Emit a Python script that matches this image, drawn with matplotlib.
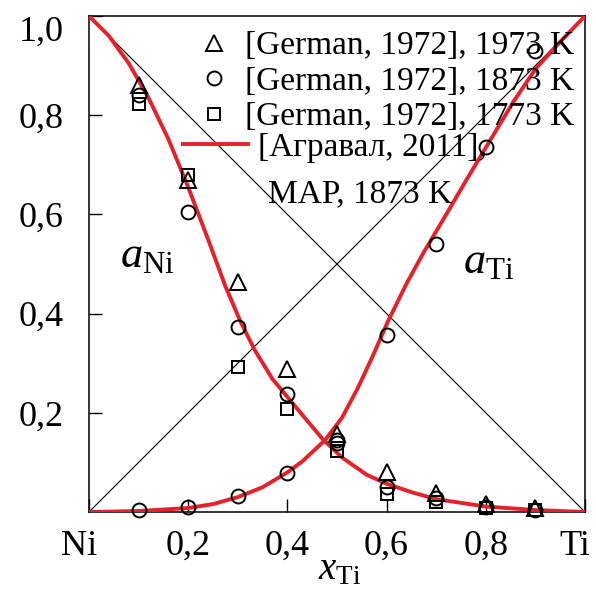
import numpy as np
import matplotlib.pyplot as plt
from matplotlib.lines import Line2D
from matplotlib.transforms import ScaledTranslation

plt.rcParams['font.family'] = ['Liberation Serif', 'DejaVu Serif']
plt.rcParams['mathtext.fontset'] = 'custom'
plt.rcParams['mathtext.rm'] = 'Liberation Serif'
plt.rcParams['mathtext.it'] = 'Liberation Serif:italic'

# --- experimental points [German, 1972] ---
x_exp = [0.1, 0.2, 0.3, 0.4, 0.5, 0.6, 0.7, 0.8, 0.9]
a_ni_1973 = [0.861, 0.669, 0.464, 0.288, 0.157, 0.081, 0.038, 0.016, 0.008]
a_ni_1873 = [0.841, 0.605, 0.373, 0.238, 0.146, 0.051, 0.028, 0.010, 0.005]
a_ni_1773 = [0.823, 0.679, 0.293, 0.207, 0.124, 0.037, 0.021, 0.008, 0.004]
a_ti_1873 = [0.004, 0.010, 0.033, 0.079, 0.140, 0.357, 0.540, 0.736, 0.929]

# --- model curves [Агравал, 2011], MAP, 1873 K ---
x_ni_curve = [0.0, 0.04, 0.08, 0.12, 0.16, 0.2, 0.24, 0.275, 0.305, 0.335, 0.37,
              0.4, 0.435, 0.472, 0.51, 0.56, 0.6, 0.65, 0.7, 0.8, 0.9, 1.0]
a_ni_curve = [1.0, 0.96, 0.905, 0.835, 0.752, 0.655, 0.55, 0.455, 0.385, 0.325, 0.268,
              0.232, 0.19, 0.146, 0.11, 0.075, 0.057, 0.04, 0.026, 0.011, 0.004, 0.0]
x_ti_curve = [0.0, 0.1, 0.2, 0.25, 0.3, 0.35, 0.4, 0.43, 0.476, 0.51, 0.542, 0.571,
              0.603, 0.641, 0.674, 0.722, 0.76, 0.808, 0.855, 0.9, 0.95, 1.0]
a_ti_curve = [0.0, 0.002, 0.008, 0.016, 0.03, 0.05, 0.08, 0.102, 0.145, 0.19, 0.25, 0.312,
              0.385, 0.462, 0.522, 0.603, 0.668, 0.748, 0.826, 0.893, 0.948, 1.0]

xticks = [0, 0.2, 0.4, 0.6, 0.8, 1.0]
xtick_labels = ['Ni', '0,2', '0,4', '0,6', '0,8', 'Ti']
yticks = [0.2, 0.4, 0.6, 0.8, 1.0]
ytick_labels = ['0,2', '0,4', '0,6', '0,8', '1,0']

RED = '#e8202a'

fig = plt.figure(figsize=(5.96, 5.89), dpi=100)
ax = fig.add_axes([0.1493, 0.1307, 0.8322, 0.8421])

# ideal solution diagonals
ax.plot([0, 1], [0, 1], color='black', lw=0.8)
ax.plot([0, 1], [1, 0], color='black', lw=0.8)

ax.plot(x_ni_curve, a_ni_curve, color=RED, lw=2.8, solid_capstyle='round', zorder=3)
ax.plot(x_ti_curve, a_ti_curve, color=RED, lw=2.8, solid_capstyle='round', zorder=3)

mk = dict(ls='none', mfc='none', mec='black', mew=1.4, zorder=4, clip_on=False)
ax.plot(x_exp, a_ni_1973, marker='^', ms=11, **mk)
ax.plot(x_exp, a_ni_1873, marker='o', ms=10, **mk)
ax.plot(x_exp, a_ni_1773, marker='s', ms=9, **mk)
ax.plot(x_exp, a_ti_1873, marker='o', ms=10, **mk)

ax.set_xlim(0, 1)
ax.set_ylim(0, 1)
ax.set_xticks(xticks)
ax.set_xticklabels(xtick_labels)
ax.set_yticks(yticks)
ax.set_yticklabels(ytick_labels)
ax.tick_params(direction='in', length=9.5, width=1.0, labelsize=26)
ax.tick_params(axis='x', pad=13)
ax.tick_params(axis='y', pad=18)
ax.get_yticklabels()[-1].set_verticalalignment('top')
# pull the element names slightly inwards
xl = ax.get_xticklabels()
xl[0].set_transform(xl[0].get_transform() + ScaledTranslation(-0.1, 0, fig.dpi_scale_trans))
xl[-1].set_transform(xl[-1].get_transform() + ScaledTranslation(-0.1, 0, fig.dpi_scale_trans))
for s in ax.spines.values():
    s.set_linewidth(1.1)

ax.set_xlabel(r'$x_{\mathrm{Ti}}$', fontsize=28)
ax.xaxis.set_label_coords(0.506, -0.08)

ax.text(0.0625, 0.494, r'$a_{\mathrm{Ni}}$', fontsize=32, transform=ax.transAxes, va='baseline')
ax.text(0.754, 0.482, r'$a_{\mathrm{Ti}}$', fontsize=32, transform=ax.transAxes, va='baseline')

# legend: markers
h_mk = [Line2D([], [], ls='none', marker='^', ms=11, mfc='none', mec='black', mew=1.4),
        Line2D([], [], ls='none', marker='o', ms=10, mfc='none', mec='black', mew=1.4),
        Line2D([], [], ls='none', marker='s', ms=9, mfc='none', mec='black', mew=1.4)]
lab_mk = ['[German, 1972], 1973 K', '[German, 1972], 1873 K', '[German, 1972], 1773 K']
leg1 = ax.legend(h_mk, lab_mk, loc='upper left', bbox_to_anchor=(0.22, 0.97),
                 frameon=False, fontsize=24, handlelength=0.95, handletextpad=0.45,
                 labelspacing=0.15, borderpad=0, borderaxespad=0)
ax.add_artist(leg1)

# legend: model line
h_ln = [Line2D([], [], color=RED, lw=2.8)]
ax.legend(h_ln, ['[Агравал, 2011],'], loc='upper left', bbox_to_anchor=(0.19, 0.765),
          frameon=False, fontsize=24, handlelength=1.95, handletextpad=0.3,
          borderpad=0, borderaxespad=0)
ax.text(0.36, 0.625, 'МАР, 1873 K', fontsize=24, transform=ax.transAxes, va='baseline')

plt.savefig('out.png', dpi=100)
